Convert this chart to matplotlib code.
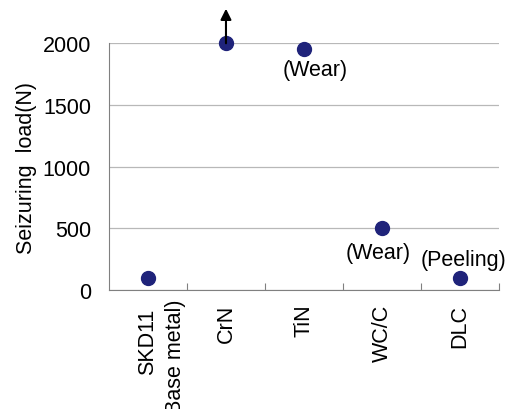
import matplotlib
matplotlib.use("Agg")
import matplotlib.pyplot as plt
import numpy as np

categories = ["SKD11", "CrN", "TiN", "WC/C", "DLC"]
sub_label = "(Base metal)"
loads = [100, 2000, 1950, 500, 100]
notes = ["", "", "(Wear)", "(Wear)", "(Peeling)"]
note_pos = [None, None, (2.65, 1790), (3.45, 305), (4.55, 245)]
y_ticks = [0, 500, 1000, 1500, 2000]

plt.rcParams['font.family'] = ['Liberation Sans', 'DejaVu Sans']
fs = 15.5

fig = plt.figure(figsize=(5.13, 4.10), dpi=100)
ax = fig.add_axes([0.2125, 0.290, 0.760, 0.602])

x = np.arange(len(categories)) + 0.5
ax.plot(x, loads, 'o', color='#1f237a', markersize=10, zorder=3, clip_on=False)

# arrow above CrN: load beyond the test limit
ax.annotate("", xy=(x[1], 2280), xytext=(x[1], 2000),
            arrowprops=dict(arrowstyle='-|>', color='black', lw=1.5,
                            mutation_scale=16, shrinkA=0, shrinkB=0),
            annotation_clip=False)

for i, t in enumerate(notes):
    if t:
        ax.text(note_pos[i][0], note_pos[i][1], t, ha='center', va='center', fontsize=fs)

ax.set_xlim(0, 5)
ax.set_ylim(0, 2000)
ax.set_yticks(y_ticks)
ax.tick_params(axis='y', length=0, labelsize=fs, pad=13)
ax.yaxis.grid(True, color='#b8b8b8', lw=0.9)
ax.set_axisbelow(True)

ax.set_xticks(np.arange(1, 6))
ax.set_xticklabels([])
ax.tick_params(axis='x', direction='in', length=5, color='#808080')
for xi, lab in zip(x, categories):
    ax.text(xi, -140 if xi == x[0] else -110, lab, rotation=90,
            ha='center', va='top', fontsize=fs)
# second line of the base metal label, partly below the figure edge
ax.text(x[0] + 0.35, -65, sub_label, rotation=90, ha='center', va='top', fontsize=fs)

for s in ['top', 'right']:
    ax.spines[s].set_visible(False)
for s in ['left', 'bottom']:
    ax.spines[s].set_color('#808080')

ax.set_ylabel("Seizuring  load(N)", fontsize=fs, labelpad=4)

fig.savefig("out.png", dpi=100)
